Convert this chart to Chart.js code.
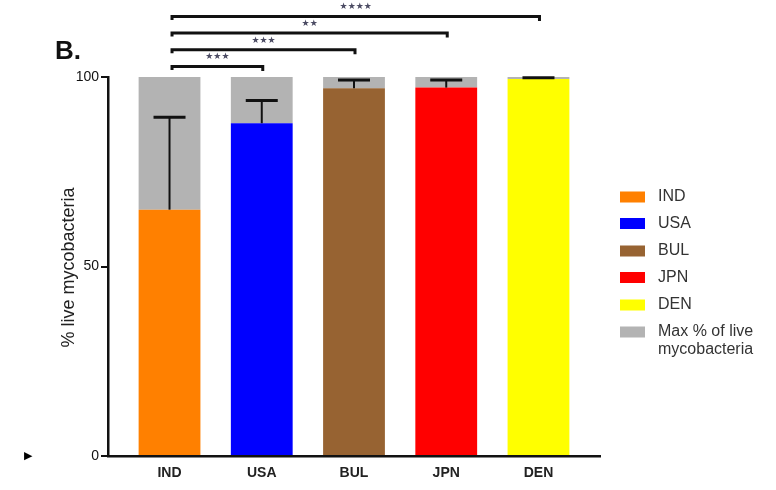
<!DOCTYPE html>
<html>
<head>
<meta charset="utf-8">
<script src="https://cdn.jsdelivr.net/npm/chart.js@4/dist/chart.umd.min.js"></script>
<style>
  body { margin: 0; background: #fff; }
  #wrap { width: 776px; height: 490px; }
</style>
</head>
<body>
<div id="wrap"><canvas id="grafico" width="776" height="490"></canvas></div>
<script>
// datos
const categorias = ['IND', 'USA', 'BUL', 'JPN', 'DEN'];
const vivas = [65, 87.8, 97, 97.2, 99.5];          // % live mycobacteria (media)
const errores = [24.4, 6, 2.2, 2, 0.3];             // error (solo hacia arriba)
const maximo = 100;                                  // Max % of live mycobacteria
const yTicks = [0, 50, 100];
const colores = ['#ff8000', '#0000ff', '#976332', '#ff0000', '#ffff00'];
const colorMax = '#b3b3b3';
const etiquetasLeyenda = ['IND', 'USA', 'BUL', 'JPN', 'DEN', ['Max % of live', 'mycobacteria']];
// comparaciones: [desde, hasta, estrellas]
const significancia = [
    [0, 1, '***'],
    [0, 2, '***'],
    [0, 3, '**'],
    [0, 4, '****'],
];

const puntosVivas = vivas.map((v, i) => ({ x: i, y: v }));
const puntosMax = vivas.map((v, i) => ({ x: i, y: maximo - v }));

const extras = {
    id: 'extras',
    afterDatasetsDraw(chart) {
        const ctx = chart.ctx;
        const xs = chart.scales.x;
        const ys = chart.scales.y;
        const area = chart.chartArea;
        ctx.save();
        ctx.strokeStyle = '#111';
        // barras de error
        for (let i = 0; i < vivas.length; i++) {
            const x = xs.getPixelForValue(i);
            const yBase = ys.getPixelForValue(vivas[i]);
            const yTop = ys.getPixelForValue(vivas[i] + errores[i]);
            ctx.lineWidth = 2;
            ctx.beginPath();
            ctx.moveTo(x, yBase);
            ctx.lineTo(x, yTop);
            ctx.stroke();
            ctx.lineWidth = 3;
            ctx.beginPath();
            ctx.moveTo(x - 16, yTop);
            ctx.lineTo(x + 16, yTop);
            ctx.stroke();
        }
        // corchetes de significancia
        for (let k = 0; k < significancia.length; k++) {
            const [a, b, estrellas] = significancia[k];
            const y = area.top - 10.5 - k * 16.7;
            const x1 = xs.getPixelForValue(a) + 2.5;
            const x2 = xs.getPixelForValue(b) + 1;
            ctx.lineWidth = 3;
            ctx.beginPath();
            ctx.moveTo(x1, y + 3.5);
            ctx.lineTo(x1, y);
            ctx.lineTo(x2, y);
            ctx.lineTo(x2, y + 4.5);
            ctx.stroke();
            ctx.fillStyle = '#4b4b63';
            ctx.font = '9px "DejaVu Sans"';
            ctx.textAlign = 'center';
            ctx.textBaseline = 'middle';
            ctx.fillText(estrellas.split('').map(() => '★').join(''), (x1 + x2) / 2, y - 9.5);
        }
        // titulo de panel
        ctx.fillStyle = '#111';
        ctx.font = 'bold 26px Arial';
        ctx.textAlign = 'left';
        ctx.textBaseline = 'alphabetic';
        ctx.fillText('B.', 55, 59);
        // titulo eje y
        ctx.save();
        ctx.translate(69, (area.top + area.bottom) / 2 + 1);
        ctx.rotate(-Math.PI / 2);
        ctx.font = '18px Arial';
        ctx.fillStyle = '#222';
        ctx.textAlign = 'center';
        ctx.textBaseline = 'middle';
        ctx.fillText('% live mycobacteria', 0, 0);
        ctx.restore();
        // flechita
        ctx.font = '11px "DejaVu Sans"';
        ctx.fillStyle = '#000';
        ctx.textAlign = 'left';
        ctx.textBaseline = 'middle';
        ctx.fillText('▶', 24, area.bottom);
        // leyenda
        const filas = [197, 223.5, 251, 277.5, 305, 332];
        ctx.font = '16px Arial';
        for (let i = 0; i < etiquetasLeyenda.length; i++) {
            const y = filas[i];
            ctx.fillStyle = i < colores.length ? colores[i] : colorMax;
            ctx.fillRect(620, y - 5.5, 25, 11);
            ctx.fillStyle = '#333';
            const lineas = Array.isArray(etiquetasLeyenda[i]) ? etiquetasLeyenda[i] : [etiquetasLeyenda[i]];
            lineas.forEach((t, j) => ctx.fillText(t, 658, y + j * 18));
        }
        ctx.restore();
    }
};

const config = {
    type: 'bar',
    data: {
        datasets: [
            {
                label: 'live',
                data: puntosVivas,
                backgroundColor: colores,
                barPercentage: 0.67,
                categoryPercentage: 1,
            },
            {
                label: 'Max % of live mycobacteria',
                data: puntosMax,
                backgroundColor: colorMax,
                barPercentage: 0.67,
                categoryPercentage: 1,
            },
        ],
    },
    options: {
        responsive: false,
        animation: false,
        layout: { padding: { top: 77, right: 176, left: 0, bottom: 0 } },
        plugins: {
            legend: { display: false },
            tooltip: { enabled: false },
        },
        scales: {
            x: {
                type: 'linear',
                stacked: true,
                offset: false,
                min: -0.667,
                max: 4.667,
                afterFit: (s) => { s.height = 34; },
                grid: { display: false, drawTicks: false },
                border: { display: true, color: '#111', width: 2.5 },
                ticks: {
                    stepSize: 1,
                    includeBounds: false,
                    padding: 9,
                    color: '#222',
                    font: { family: 'Arial', size: 14, weight: 'bold' },
                    callback: (v) => (Number.isInteger(v) ? categorias[v] : null),
                },
            },
            y: {
                stacked: true,
                min: 0,
                max: maximo,
                afterFit: (s) => { s.width = 108; },
                afterBuildTicks: (s) => { s.ticks = yTicks.map((v) => ({ value: v })); },
                grid: { drawOnChartArea: false, drawTicks: true, tickLength: 7, color: '#111', lineWidth: 2 },
                border: { display: true, color: '#111', width: 2.5 },
                ticks: {
                    padding: 2,
                    color: '#111',
                    font: { family: 'Arial', size: 14 },
                },
            },
        },
    },
    plugins: [extras],
};

const miGrafico = new Chart(document.getElementById('grafico'), config);
</script>
</body>
</html>
